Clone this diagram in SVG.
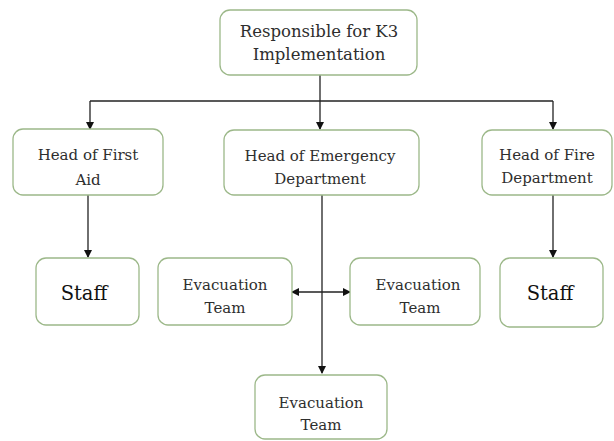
<svg xmlns="http://www.w3.org/2000/svg" width="614" height="441" viewBox="0 0 614 441">
<style>
.box{fill:#fff;stroke:#9cb889;stroke-width:1.3}
.t{font-family:'DejaVu Serif',serif;font-size:15px;fill:#2e2e2e;text-anchor:middle}
.tl{font-size:16.5px}
.s{font-family:'DejaVu Serif',serif;font-size:19.5px;fill:#111;text-anchor:middle}
.c{stroke:#222;stroke-width:1.3;fill:none}
</style>
<defs>
<marker id="ah" markerWidth="8" markerHeight="8" refX="7" refY="4" orient="auto" markerUnits="userSpaceOnUse">
<path d="M0,0 L8,4 L0,8 z" fill="#111"/>
</marker>
<marker id="as" markerWidth="8" markerHeight="8" refX="1" refY="4" orient="auto" markerUnits="userSpaceOnUse">
<path d="M8,0 L0,4 L8,8 z" fill="#111"/>
</marker>
</defs>
<rect width="614" height="441" fill="#fff"/>
<g id="connectors">
<path class="c" d="M320,75 V129" marker-end="url(#ah)"/>
<path class="c" d="M90,101 H553"/>
<path class="c" d="M90,101 V129" marker-end="url(#ah)"/>
<path class="c" d="M553,101 V129" marker-end="url(#ah)"/>
<path class="c" d="M88,195 V257" marker-end="url(#ah)"/>
<path class="c" d="M553,195 V257" marker-end="url(#ah)"/>
<path class="c" d="M322,195 V373" marker-end="url(#ah)"/>
<path class="c" d="M292,292 H350" marker-start="url(#as)" marker-end="url(#ah)"/>
</g>
<g id="top"><rect class="box" x="220" y="10" width="197" height="65" rx="10"/>
<text class="t tl" x="319" y="37">Responsible for K3</text><text class="t tl" x="319" y="60">Implementation</text></g>
<g id="firstaid"><rect class="box" x="13" y="129" width="150" height="66" rx="10"/>
<text class="t" x="88" y="160">Head of First</text><text class="t" x="88" y="185">Aid</text></g>
<g id="emergency"><rect class="box" x="224" y="130" width="195" height="65" rx="10"/>
<text class="t" x="320" y="161">Head of Emergency</text><text class="t" x="320" y="184">Department</text></g>
<g id="fire"><rect class="box" x="482" y="130" width="130" height="65" rx="10"/>
<text class="t" x="547" y="160">Head of Fire</text><text class="t" x="547" y="183">Department</text></g>
<g id="staff1"><rect class="box" x="36" y="258" width="103" height="67" rx="10"/>
<text class="s" x="84" y="300">Staff</text></g>
<g id="evac1"><rect class="box" x="158" y="258" width="134" height="67" rx="10"/>
<text class="t" x="225" y="290">Evacuation</text><text class="t" x="225" y="313">Team</text></g>
<g id="evac2"><rect class="box" x="350" y="258" width="130" height="67" rx="10"/>
<text class="t" x="418" y="290">Evacuation</text><text class="t" x="420" y="313">Team</text></g>
<g id="staff2"><rect class="box" x="500" y="258" width="103" height="69" rx="10"/>
<text class="s" x="550" y="300">Staff</text></g>
<g id="evac3"><rect class="box" x="255" y="375" width="132" height="64" rx="10"/>
<text class="t" x="321" y="408">Evacuation</text><text class="t" x="321" y="430">Team</text></g>
</svg>
